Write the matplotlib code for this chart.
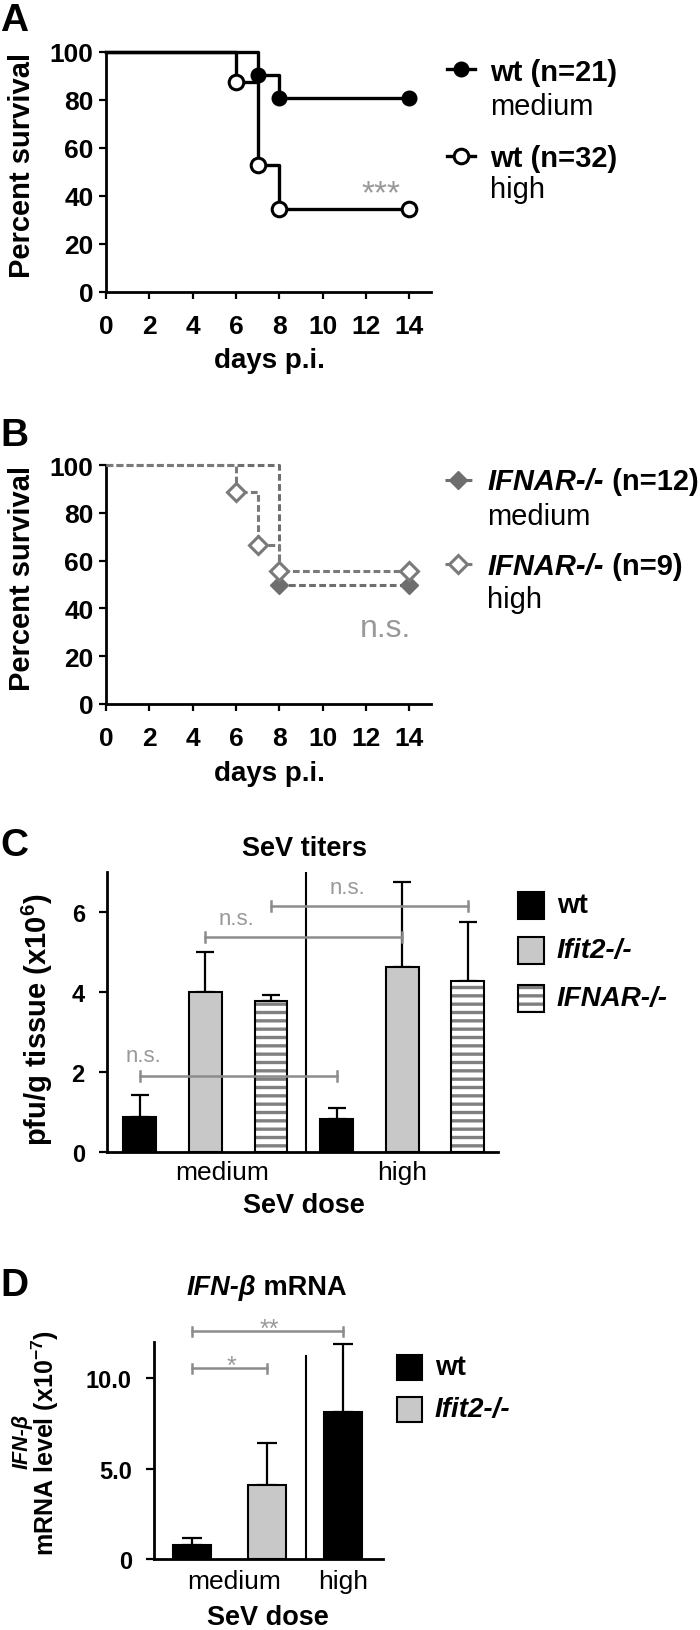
import matplotlib
matplotlib.use('Agg')
import numpy as np
import matplotlib.pyplot as plt
from matplotlib import font_manager
from matplotlib.transforms import Affine2D
from matplotlib.patches import Rectangle
from matplotlib.lines import Line2D

W, H = 700, 1631
plt.rcParams['font.family'] = ['Liberation Sans', 'DejaVu Sans']
plt.rcParams['mathtext.fontset'] = 'custom'
plt.rcParams['mathtext.rm'] = 'Liberation Sans'
plt.rcParams['mathtext.bf'] = 'Liberation Sans:bold'
plt.rcParams['mathtext.it'] = 'Liberation Sans:italic'
plt.rcParams['hatch.linewidth'] = 2.4

# condensed font for tick numbers if available
try:
    font_manager.findfont(font_manager.FontProperties(family='Liberation Sans Narrow', weight='bold'),
                          fallback_to_default=False)
    TICK_FAMILY = ['Liberation Sans Narrow', 'Liberation Sans']
    NARROW = True
except Exception:
    TICK_FAMILY = ['Liberation Sans']
    NARROW = False

# ---------------- data ----------------
# Panel A: wt survival (Kaplan-Meier steps)
days_A_med = [0, 7, 8, 14]
surv_A_med = [100, 90.5, 81.0, 81.0]
days_A_high = [0, 6, 7, 8, 14]
surv_A_high = [100, 87.5, 53.1, 34.4, 34.4]
# Panel B: IFNAR-/- survival
days_B_med = [0, 8, 14]
surv_B_med = [100, 50.0, 50.0]
days_B_high = [0, 6, 7, 8, 14]
surv_B_high = [100, 88.9, 66.7, 55.6, 55.6]
survival_xticks = [0, 2, 4, 6, 8, 10, 12, 14]
survival_yticks = [0, 20, 40, 60, 80, 100]

# Panel C: SeV titers (x10^6 pfu/g)
doses = ['medium', 'high']
genotypes_C = ['wt', 'Ifit2-/-', 'IFNAR-/-']
titer_wt = [0.875, 0.83]
titer_wt_err = [0.55, 0.27]
titer_ifit2 = [4.00, 4.63]
titer_ifit2_err = [1.00, 2.12]
titer_ifnar = [3.78, 4.28]
titer_ifnar_err = [0.15, 1.47]
titer_yticks = [0, 2, 4, 6]

# Panel D: IFN-beta mRNA (x10^-7)
ifnb_labels = ['wt medium', 'Ifit2-/- medium', 'wt high']
ifnb_vals = [0.77, 4.09, 8.12]
ifnb_err = [0.39, 2.31, 3.78]
ifnb_yticks = [0, 5.0, 10.0]
ifnb_yticklabels = ['0', '5.0', '10.0']

GRAY_TXT = '#999999'
GRAY_BR = '#8c8c8c'
LGRAY = '#c8c8c8'
DGRAY = '#6e6e6e'

fig = plt.figure(figsize=(W / 100, H / 100), dpi=100)
pix = Affine2D().scale(1 / W, -1 / H).translate(0, 1) + fig.transFigure


def rect(x0, x1, yt, yb):
    return [x0 / W, 1 - yb / H, (x1 - x0) / W, (yb - yt) / H]


def style(ax, size, tick_len=5, xpad=4, ypad=4):
    for s in ['top', 'right']:
        ax.spines[s].set_visible(False)
    for s in ['left', 'bottom']:
        ax.spines[s].set_linewidth(2.0)
    ax.tick_params(width=1.6, length=tick_len, labelsize=size, direction='out')
    ax.tick_params(axis='x', pad=xpad)
    ax.tick_params(axis='y', pad=ypad)


def bold_ticks(ax, which='both'):
    labs = []
    if which in ('both', 'x'):
        labs += ax.get_xticklabels()
    if which in ('both', 'y'):
        labs += ax.get_yticklabels()
    for lab in labs:
        lab.set_fontweight('bold')
        lab.set_family(TICK_FAMILY)


def T(x, y, s, **kw):
    return fig.text(x, y, s, transform=pix, **kw)


TS = 20.5 if NARROW else 19    # survival tick size
TS2 = 19 if NARROW else 17     # bar chart y tick size

# ---------------- panel A ----------------
axA = fig.add_axes(rect(106, 431, 53, 293))
axA.step(days_A_med, surv_A_med, where='post', color='k', lw=2.4, clip_on=False, zorder=3)
axA.step(days_A_high, surv_A_high, where='post', color='k', lw=2.4, clip_on=False, zorder=3)
axA.plot(days_A_med[1:], surv_A_med[1:], 'o', color='k', ms=10.5, clip_on=False, zorder=4)
axA.plot(days_A_high[1:], surv_A_high[1:], 'o', mfc='white', mec='k', mew=2.2, ms=10.5,
         clip_on=False, zorder=4)
axA.set_xlim(0, 15)
axA.set_ylim(0, 100)
axA.set_xticks(survival_xticks)
axA.set_yticks(survival_yticks)
style(axA, TS, xpad=11, ypad=4)
bold_ticks(axA)
axA.text(12.7, 41.0, '***', color=GRAY_TXT, fontsize=24, ha='center', va='center')

# ---------------- panel B ----------------
axB = fig.add_axes(rect(106, 431, 466, 705))
dash = (0, (2.2, 1.1))
axB.step(days_B_med, surv_B_med, where='post', color=DGRAY, lw=2.2, ls=dash, clip_on=False, zorder=3)
axB.step(days_B_high, surv_B_high, where='post', color='#7a7a7a', lw=2.2, ls=dash, clip_on=False, zorder=3)
axB.plot(days_B_med[1:], surv_B_med[1:], 'D', color=DGRAY, ms=9.5, clip_on=False, zorder=4)
axB.plot(days_B_high[1:], surv_B_high[1:], 'D', mfc='white', mec='#7a7a7a', mew=2.2, ms=9.5,
         clip_on=False, zorder=4)
axB.set_xlim(0, 15)
axB.set_ylim(0, 100)
axB.set_xticks(survival_xticks)
axB.set_yticks(survival_yticks)
style(axB, TS, xpad=11, ypad=4)
bold_ticks(axB)
axB.text(12.9, 32, 'n.s.', color=GRAY_TXT, fontsize=23, ha='center', va='center')

for yoff in (0, 413):
    T(22.5, 165 + yoff, 'Percent survival', rotation=90, ha='center', va='center',
      fontsize=21, fontweight='bold')
    T(269, 368 + yoff, 'days p.i.', ha='center', va='baseline', fontsize=20, fontweight='bold')

# legend A
fig.add_artist(Line2D([447, 475], [70, 70], color='k', lw=2.4, transform=pix))
fig.add_artist(Line2D([461], [70], marker='o', color='k', ms=10.5, transform=pix))
fig.add_artist(Line2D([447, 475], [157, 157], color='k', lw=2.4, transform=pix))
fig.add_artist(Line2D([461], [157], marker='o', mfc='white', mec='k', mew=2.2, ms=10.5, transform=pix))
T(490, 81, 'wt (n=21)', fontsize=21, fontweight='bold', va='baseline')
T(490, 115, 'medium', fontsize=21, va='baseline')
T(490, 167, 'wt (n=32)', fontsize=21, fontweight='bold', va='baseline')
T(490, 198, 'high', fontsize=21, va='baseline')

# legend B
fig.add_artist(Line2D([445, 472], [481, 481], color=DGRAY, lw=2.2, ls=dash, transform=pix))
fig.add_artist(Line2D([458], [481], marker='D', color=DGRAY, ms=9.5, transform=pix))
fig.add_artist(Line2D([445, 472], [565, 565], color='#7a7a7a', lw=2.2, ls=dash, transform=pix))
fig.add_artist(Line2D([458], [565], marker='D', mfc='white', mec='#7a7a7a', mew=2.2, ms=9.5, transform=pix))
t1 = T(487, 490, 'IFNAR-/-', fontsize=21, fontweight='bold', style='italic', va='baseline')
axB.annotate(' (n=12)', xy=(1, 0), xycoords=t1, va='bottom', ha='left', fontsize=21,
             fontweight='bold', annotation_clip=False)
T(487, 525, 'medium', fontsize=21, va='baseline')
t2 = T(487, 575, 'IFNAR-/-', fontsize=21, fontweight='bold', style='italic', va='baseline')
axB.annotate(' (n=9)', xy=(1, 0), xycoords=t2, va='bottom', ha='left', fontsize=21,
             fontweight='bold', annotation_clip=False)
T(487, 608, 'high', fontsize=21, va='baseline')

# ---------------- panel C ----------------
axC = fig.add_axes(rect(107, 498, 873, 1153))
bw = 0.5
xpos = {g: [d * 3 + k for d in range(len(doses))] for k, g in enumerate(genotypes_C)}
axC.bar(xpos['wt'], titer_wt, bw, color='k', edgecolor='k', lw=1.5, zorder=2)
axC.bar(xpos['Ifit2-/-'], titer_ifit2, bw, color=LGRAY, edgecolor='k', lw=1.5, zorder=2)
axC.bar(xpos['IFNAR-/-'], titer_ifnar, bw, color='white', edgecolor='#808080', hatch='--', lw=0, zorder=2)
axC.bar(xpos['IFNAR-/-'], titer_ifnar, bw, fill=False, edgecolor='k', lw=1.5, zorder=2.5)
for g, m, e in [('wt', titer_wt, titer_wt_err), ('Ifit2-/-', titer_ifit2, titer_ifit2_err),
                ('IFNAR-/-', titer_ifnar, titer_ifnar_err)]:
    axC.errorbar(xpos[g], m, yerr=[[0] * len(m), e], fmt='none', ecolor='k', elinewidth=1.6,
                 capsize=6.5, capthick=1.6, zorder=1.5)
axC.plot([2.53, 2.53], [0, 7], color='k', lw=1.5, zorder=1)
axC.set_xlim(-0.5, 5.46)
axC.set_ylim(0, 7)
axC.set_yticks(titer_yticks)
axC.set_xticks([1.26, 4.0], labels=doses)
style(axC, TS2, tick_len=6, xpad=6, ypad=10)
axC.tick_params(axis='x', length=0, labelsize=19)
bold_ticks(axC, 'y')


def bracket(ax, x0, x1, y, h, text, tx, ty, fs):
    ax.plot([x0, x1], [y, y], color=GRAY_BR, lw=1.8, clip_on=False, zorder=3)
    for xx in (x0, x1):
        ax.plot([xx, xx], [y - h, y + h], color=GRAY_BR, lw=1.8, clip_on=False, zorder=3)
    ax.text(tx, ty, text, color=GRAY_TXT, fontsize=fs, ha='center', va='center', clip_on=False)


bracket(axC, 0, 3, 1.9, 0.12, 'n.s.', 0.05, 2.4, 16)
bracket(axC, 1, 4, 5.375, 0.12, 'n.s.', 1.48, 5.83, 16)
bracket(axC, 2, 5, 6.15, 0.12, 'n.s.', 3.16, 6.6, 16)

T(304, 849, 'SeV titers', ha='center', va='center', fontsize=19.5, fontweight='bold')
T(304, 1213, 'SeV dose', ha='center', va='baseline', fontsize=19.5, fontweight='bold')
T(37, 1020, 'pfu/g tissue (x10$^{\\mathbf{6}}$)', rotation=90, ha='center', va='center',
  fontsize=21, fontweight='bold')

# legend C
fig.add_artist(Rectangle((518, 893), 26, 27, transform=pix, facecolor='k', edgecolor='k', lw=1.5))
fig.add_artist(Rectangle((518, 938), 26, 27, transform=pix, facecolor=LGRAY, edgecolor='k', lw=1.5))
fig.add_artist(Rectangle((518, 986), 26, 27, transform=pix, facecolor='white', edgecolor='#808080',
                         hatch='--', lw=0))
fig.add_artist(Rectangle((518, 986), 26, 27, transform=pix, fill=False, edgecolor='k', lw=1.5))
T(557, 906, 'wt', fontsize=20, fontweight='bold', va='center')
T(557, 951, 'Ifit2-/-', fontsize=20, fontweight='bold', style='italic', va='center')
T(557, 999, 'IFNAR-/-', fontsize=20, fontweight='bold', style='italic', va='center')

# ---------------- panel D ----------------
axD = fig.add_axes(rect(154, 383, 1343, 1560))
xd = list(range(len(ifnb_vals)))
colsD = ['k', LGRAY, 'k']
axD.bar(xd, ifnb_vals, bw, color=colsD, edgecolor='k', lw=1.5, zorder=2)
axD.errorbar(xd, ifnb_vals, yerr=[[0] * len(xd), ifnb_err], fmt='none', ecolor='k',
             elinewidth=1.6, capsize=7, capthick=1.6, zorder=1.5)
axD.plot([1.51, 1.51], [0, 11.2], color='k', lw=1.5, zorder=1)
axD.set_xlim(-0.5, 2.53)
axD.set_ylim(0, 12)
axD.set_yticks(ifnb_yticks, labels=ifnb_yticklabels)
axD.set_xticks([0.56, 2.0], labels=doses)
style(axD, TS2, tick_len=6, xpad=7, ypad=10)
axD.tick_params(axis='x', length=0, labelsize=19)
bold_ticks(axD, 'y')
bracket(axD, 0, 2, 12.6, 0.25, '**', 1.03, 12.75, 18)
bracket(axD, 0, 1, 10.55, 0.25, '*', 0.53, 10.7, 18)

T(256, 1288, 'IFN-β', ha='right', va='center', fontsize=19.5, fontweight='bold', style='italic')
T(256, 1288, ' mRNA', ha='left', va='center', fontsize=19.5, fontweight='bold')
T(268, 1625, 'SeV dose', ha='center', va='baseline', fontsize=19.5, fontweight='bold')
T(22.5, 1441, 'IFN-β', rotation=90, ha='center', va='center', fontsize=15.5, fontweight='bold',
  style='italic')
T(45.5, 1443, 'mRNA level (x10$^{\\mathbf{-7}}$)', rotation=90, ha='center', va='center',
  fontsize=18, fontweight='bold')

# legend D
fig.add_artist(Rectangle((397, 1356), 25, 25, transform=pix, facecolor='k', edgecolor='k', lw=1.5))
fig.add_artist(Rectangle((397, 1398), 25, 25, transform=pix, facecolor=LGRAY, edgecolor='k', lw=1.5))
T(435, 1368, 'wt', fontsize=20, fontweight='bold', va='center')
T(435, 1410, 'Ifit2-/-', fontsize=20, fontweight='bold', style='italic', va='center')

# panel letters
for lt, yy in [('A', 21), ('B', 436), ('C', 846), ('D', 1286)]:
    T(0, yy, lt, fontsize=28, fontweight='bold', ha='left', va='center')

fig.savefig('out.png', dpi=100)
